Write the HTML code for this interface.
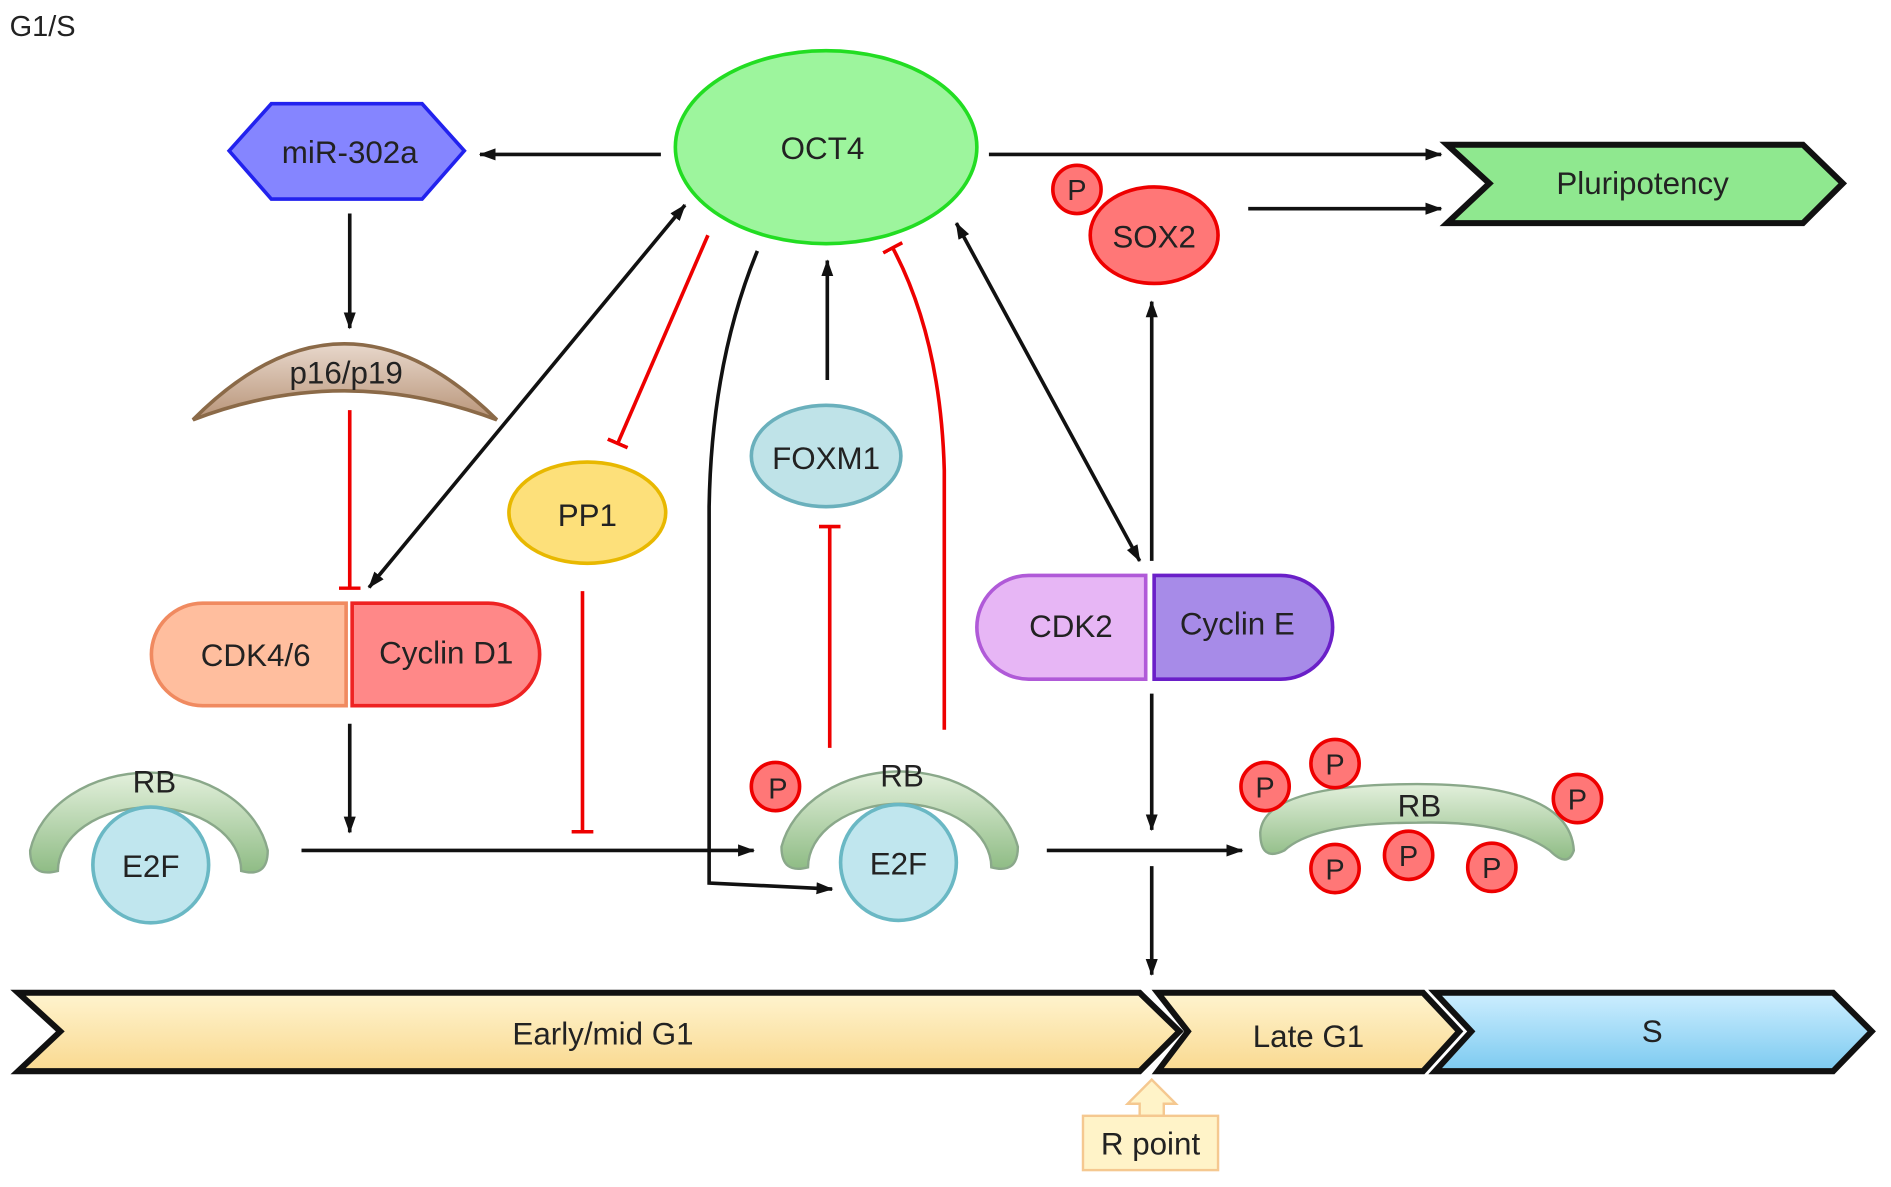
<!DOCTYPE html>
<html><head><meta charset="utf-8"><style>html,body{margin:0;padding:0;background:#fff}svg{display:block}text{font-family:"Liberation Sans",sans-serif;fill:#222}</style></head><body>
<svg width="1891" height="1187" viewBox="0 0 1568 984" preserveAspectRatio="none" xmlns="http://www.w3.org/2000/svg">
<defs>
<marker id="a" markerWidth="14" markerHeight="12" refX="13" refY="6" orient="auto" markerUnits="userSpaceOnUse"><path d="M0,1 L14,6 L0,11 Z" fill="#111"/></marker>
<marker id="as" markerWidth="14" markerHeight="12" refX="1" refY="6" orient="auto" markerUnits="userSpaceOnUse"><path d="M14,1 L0,6 L14,11 Z" fill="#111"/></marker>
<marker id="t" markerWidth="4" markerHeight="18" refX="2" refY="9" orient="auto" markerUnits="userSpaceOnUse"><rect x="0" y="0" width="3" height="18" fill="#e00"/></marker>
<linearGradient id="g1" x1="0" y1="0" x2="0" y2="1"><stop offset="0" stop-color="#fff4cf"/><stop offset="1" stop-color="#f9d990"/></linearGradient>
<linearGradient id="g2" x1="0" y1="0" x2="0" y2="1"><stop offset="0" stop-color="#cdeeff"/><stop offset="1" stop-color="#7ccaf0"/></linearGradient>
<linearGradient id="gr" x1="0" y1="0" x2="0" y2="1"><stop offset="0" stop-color="#e3f0dc"/><stop offset="1" stop-color="#8fbc85"/></linearGradient>
<linearGradient id="gp" x1="0" y1="0" x2="0" y2="1"><stop offset="0" stop-color="#e8d8cc"/><stop offset="1" stop-color="#b89478"/></linearGradient>
</defs>
<text x="8" y="30" font-size="24">G1/S</text>
<ellipse cx="685" cy="122" rx="125" ry="80" fill="#9df59d" stroke="#22dd22" stroke-width="3"/>
<text x="682" y="132" font-size="26" text-anchor="middle">OCT4</text>
<polygon points="190,125 225,86 350,86 385,125 350,165 225,165" fill="#8585ff" stroke="#2222ee" stroke-width="3"/>
<text x="290" y="135" font-size="26" text-anchor="middle">miR-302a</text>
<polygon points="1200,120 1495,120 1528,152 1495,185 1200,185 1235,152" fill="#8fe88f" stroke="#111" stroke-width="5"/>
<text x="1362" y="161" font-size="26" text-anchor="middle">Pluripotency</text>
<ellipse cx="957" cy="195" rx="53" ry="40" fill="#f77" stroke="#e00" stroke-width="3"/>
<text x="957" y="205" font-size="26" text-anchor="middle">SOX2</text>
<circle cx="893" cy="157" r="20" fill="#f77" stroke="#e00" stroke-width="3"/>
<text x="893" y="166" font-size="24" text-anchor="middle">P</text>
<path d="M160,348 Q285,222 412,348 Q285,300 160,348 Z" fill="url(#gp)" stroke="#8b6a48" stroke-width="3"/>
<text x="287" y="318" font-size="26" text-anchor="middle">p16/p19</text>
<ellipse cx="487" cy="425" rx="65" ry="42" fill="#fde07a" stroke="#e8b800" stroke-width="3"/>
<text x="487" y="436" font-size="26" text-anchor="middle">PP1</text>
<ellipse cx="685" cy="378" rx="62" ry="42" fill="#bfe3e8" stroke="#6ab0bc" stroke-width="3"/>
<text x="685" y="389" font-size="26" text-anchor="middle">FOXM1</text>
<path d="M287,500 L168,500 A42,42 0 0 0 168,585 L287,585 Z" fill="#ffbe9e" stroke="#f08a60" stroke-width="3"/>
<path d="M292,500 L405,500 A42,42 0 0 1 405,585 L292,585 Z" fill="#f88" stroke="#e22" stroke-width="3"/>
<text x="212" y="552" font-size="26" text-anchor="middle">CDK4/6</text>
<text x="370" y="550" font-size="26" text-anchor="middle">Cyclin D1</text>
<path d="M950,477 L853,477 A43,43 0 0 0 853,563 L950,563 Z" fill="#e7b6f5" stroke="#b05ad8" stroke-width="3"/>
<path d="M957,477 L1062,477 A43,43 0 0 1 1062,563 L957,563 Z" fill="#a78be8" stroke="#6a1fc8" stroke-width="3"/>
<text x="888" y="528" font-size="26" text-anchor="middle">CDK2</text>
<text x="1026" y="526" font-size="26" text-anchor="middle">Cyclin E</text>
<path d="M25,705 A100,78 0 0 1 222,705 Q222,728 200,722 A75,52 0 0 0 48,722 Q25,728 25,705 Z" fill="url(#gr)" stroke="#8aa88a" stroke-width="2"/>
<text x="128" y="657" font-size="26" text-anchor="middle">RB</text>
<circle cx="125" cy="717" r="48" fill="#c0e6ee" stroke="#6ab8c4" stroke-width="3"/>
<text x="125" y="727" font-size="26" text-anchor="middle">E2F</text>
<path d="M648,702 A100,78 0 0 1 844,702 Q844,725 822,719 A75,52 0 0 0 670,719 Q648,725 648,702 Z" fill="url(#gr)" stroke="#8aa88a" stroke-width="2"/>
<text x="748" y="652" font-size="26" text-anchor="middle">RB</text>
<circle cx="745" cy="715" r="48" fill="#c0e6ee" stroke="#6ab8c4" stroke-width="3"/>
<text x="745" y="725" font-size="26" text-anchor="middle">E2F</text>
<circle cx="643" cy="652" r="20" fill="#f77" stroke="#e00" stroke-width="3"/>
<text x="645" y="662" font-size="24" text-anchor="middle">P</text>
<path d="M1045,690 Q1048,650 1175,650 Q1302,650 1305,705 Q1300,720 1285,705 Q1250,680 1175,682 Q1090,682 1065,705 Q1045,715 1045,690 Z" fill="url(#gr)" stroke="#8aa88a" stroke-width="2"/>
<text x="1177" y="677" font-size="26" text-anchor="middle">RB</text>
<g fill="#f77" stroke="#e00" stroke-width="3">
<circle cx="1049" cy="652" r="20"/><circle cx="1107" cy="633" r="20"/><circle cx="1308" cy="662" r="20"/>
<circle cx="1107" cy="720" r="20"/><circle cx="1168" cy="709" r="20"/><circle cx="1237" cy="719" r="20"/></g>
<g font-size="24" text-anchor="middle">
<text x="1049" y="661">P</text><text x="1107" y="642">P</text><text x="1308" y="671">P</text>
<text x="1107" y="729">P</text><text x="1168" y="718">P</text><text x="1237" y="728">P</text></g>
<polygon points="15,823 945,823 978,855 945,888 15,888 50,855" fill="url(#g1)" stroke="#111" stroke-width="5"/>
<polygon points="960,823 1180,823 1210,855 1180,888 960,888 985,855" fill="url(#g1)" stroke="#111" stroke-width="5"/>
<polygon points="1190,823 1520,823 1552,855 1520,888 1190,888 1220,855" fill="url(#g2)" stroke="#111" stroke-width="5"/>
<text x="500" y="866" font-size="26" text-anchor="middle">Early/mid G1</text>
<text x="1085" y="868" font-size="26" text-anchor="middle">Late G1</text>
<text x="1370" y="864" font-size="26" text-anchor="middle">S</text>
<polygon points="955,895 975,915 965,915 965,925 945,925 945,915 935,915" fill="#fff3c8" stroke="#f5c890" stroke-width="2"/>
<rect x="898" y="925" width="112" height="45" fill="#fff3c8" stroke="#f5c890" stroke-width="2"/>
<text x="954" y="957" font-size="26" text-anchor="middle">R point</text>
<g stroke="#111" stroke-width="3" fill="none">
<line x1="548" y1="128" x2="398" y2="128" marker-end="url(#a)"/>
<line x1="820" y1="128" x2="1195" y2="128" marker-end="url(#a)"/>
<line x1="1035" y1="173" x2="1195" y2="173" marker-end="url(#a)"/>
<line x1="290" y1="177" x2="290" y2="272" marker-end="url(#a)"/>
<line x1="568" y1="170" x2="306" y2="487" marker-end="url(#a)" marker-start="url(#as)"/>
<path d="M628,208 Q590,300 588,420 L588,732 L690,737" marker-end="url(#a)"/>
<line x1="686" y1="315" x2="686" y2="216" marker-end="url(#a)"/>
<line x1="793" y1="185" x2="945" y2="465" marker-end="url(#a)" marker-start="url(#as)"/>
<line x1="955" y1="465" x2="955" y2="250" marker-end="url(#a)"/>
<line x1="290" y1="600" x2="290" y2="690" marker-end="url(#a)"/>
<line x1="250" y1="705" x2="625" y2="705" marker-end="url(#a)"/>
<line x1="868" y1="705" x2="1030" y2="705" marker-end="url(#a)"/>
<line x1="955" y1="575" x2="955" y2="688" marker-end="url(#a)"/>
<line x1="955" y1="718" x2="955" y2="808" marker-end="url(#a)"/>
</g>
<g stroke="#e00" stroke-width="3" fill="none">
<line x1="290" y1="340" x2="290" y2="488" marker-end="url(#t)"/>
<line x1="587" y1="195" x2="512" y2="368" marker-end="url(#t)"/>
<line x1="688" y1="620" x2="688" y2="436" marker-end="url(#t)"/>
<path d="M783,605 L783,390 Q780,280 740,205" marker-end="url(#t)"/>
<line x1="483" y1="490" x2="483" y2="690" marker-end="url(#t)"/>
</g>
</svg>
</body></html>
